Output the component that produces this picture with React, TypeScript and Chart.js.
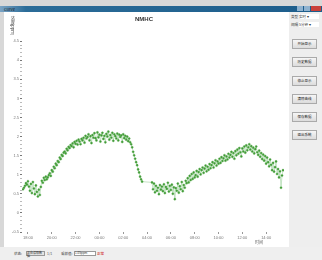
import React, { useEffect, useRef } from "react";
import { Chart, registerables } from "chart.js";

Chart.register(...registerables);

// ---- data ----
const chartTitle = "NMHC";
const yAxisTitle = "浓度(ppm)";
const xAxisTitle = "时间";

// sample interval in minutes and start time (min) of each recorded segment
const sampleMinutes = 5;
const seg1Start = -25;
const seg2Start = 625;

const seg1Values = [
  0.62, 0.66, 0.71, 0.78, 0.74, 0.83, 0.69, 0.58, 0.76, 0.52, 0.81, 0.64,
  0.49, 0.72, 0.55, 0.43, 0.61, 0.47, 0.68, 0.84, 0.79, 0.92, 0.86, 0.95,
  0.88, 0.93, 0.99, 1.04, 0.97, 1.12, 1.08, 1.21, 1.17, 1.29, 1.25, 1.36,
  1.33, 1.45, 1.41, 1.52, 1.49, 1.58, 1.61, 1.56, 1.68, 1.64, 1.73, 1.70,
  1.78, 1.75, 1.82, 1.72, 1.86, 1.81, 1.89, 1.79, 1.92, 1.87, 1.80, 1.94,
  1.90, 1.97, 1.84, 2.02, 1.95, 1.99, 2.06, 1.90, 2.01, 1.83, 2.04, 1.97,
  2.09, 1.96, 1.90, 2.11, 1.98, 2.05, 1.87, 2.03, 2.10, 1.94, 2.02, 1.85,
  2.07, 2.00, 2.13, 1.92, 2.04, 1.97, 2.10, 1.89, 2.06, 2.01, 1.95, 2.08,
  1.90, 2.05, 1.99, 2.03, 1.86, 2.06, 1.96, 2.02, 1.92, 2.00, 1.88, 1.95,
  1.85, 1.80, 1.72, 1.60, 1.51, 1.42, 1.33, 1.25, 1.14, 1.06, 0.95, 0.88,
  0.82,
];

const seg2Values = [
  0.80, 0.62, 0.77, 0.54, 0.71, 0.58, 0.66, 0.49, 0.73, 0.61, 0.69, 0.57,
  0.75, 0.52, 0.68, 0.63, 0.79, 0.56, 0.71, 0.60, 0.74, 0.50, 0.67, 0.36,
  0.65, 0.58, 0.77, 0.53, 0.70, 0.62, 0.81, 0.57, 0.73, 0.66, 0.84, 0.78,
  0.91, 0.80, 0.97, 0.86, 1.02, 0.89, 1.06, 0.93, 0.99, 1.10, 0.95, 1.07,
  1.15, 1.01, 1.12, 1.19, 1.05, 1.16, 1.24, 1.09, 1.21, 1.13, 1.28, 1.17,
  1.25, 1.33, 1.19, 1.30, 1.38, 1.24, 1.35, 1.29, 1.42, 1.31, 1.46, 1.36,
  1.43, 1.51, 1.37, 1.48, 1.40, 1.55, 1.45, 1.52, 1.60, 1.47, 1.57, 1.42,
  1.62, 1.51, 1.66, 1.55, 1.70, 1.59, 1.48, 1.69, 1.61, 1.74, 1.58, 1.77,
  1.64, 1.72, 1.80, 1.66, 1.75, 1.61, 1.71, 1.56, 1.67, 1.74, 1.59, 1.52,
  1.63, 1.47, 1.57, 1.41, 1.53, 1.37, 1.49, 1.29, 1.45, 1.33, 1.22, 1.40,
  1.26, 1.12, 1.31, 1.08, 1.20, 1.35, 1.02, 1.15, 0.93, 1.09, 0.66, 0.98,
  1.12,
];

const xTickValues = [0, 120, 240, 360, 480, 600, 720, 840, 960, 1080, 1200];
const xTickLabels = [
  "18:00", "20:00", "22:00", "00:00", "02:00", "04:00",
  "06:00", "08:00", "10:00", "12:00", "14:00",
];

const yMajorValues = [-0.5, 0, 0.5, 1, 1.5, 2, 2.5, 3, 3.5, 4, 4.5];
const yMajorLabels = ["-0.5", "0", "0.5", "1", "1.5", "2", "2.5", "3", "3.5", "4", "4.5"];
const yMinorPerMajor = 4;

const sideButtons = ["开始显示", "历史数据", "停止显示", "清除曲线", "保存数据", "退出系统"];

export default function App() {
  const ref = useRef<HTMLCanvasElement | null>(null);

  useEffect(() => {
    if (!ref.current) return;
    const points: { x: number; y: number }[] = [];
    seg1Values.forEach((v, i) => points.push({ x: seg1Start + i * sampleMinutes, y: v }));
    seg2Values.forEach((v, i) => points.push({ x: seg2Start + i * sampleMinutes, y: v }));

    const yTicks: { value: number; label: string; major: boolean }[] = [];
    yMajorValues.forEach((v, i) => {
      yTicks.push({ value: v, label: yMajorLabels[i], major: true });
      if (i < yMajorValues.length - 1) {
        const step = (yMajorValues[i + 1] - v) / (yMinorPerMajor + 1);
        for (let k = 1; k <= yMinorPerMajor; k++) {
          yTicks.push({ value: v + step * k, label: "", major: false });
        }
      }
    });

    const chart = new Chart(ref.current, {
      type: "scatter",
      data: {
        datasets: [
          {
            data: points,
            showLine: true,
            borderColor: "#9fd29f",
            borderWidth: 0.6,
            pointRadius: 1.1,
            pointBorderWidth: 0.4,
            pointBackgroundColor: "#3f9a35",
            pointBorderColor: "#5fae55",
          },
        ],
      },
      options: {
        animation: false,
        responsive: false,
        devicePixelRatio: 1,
        layout: { padding: { left: 0, right: 5, top: 0, bottom: 0 } },
        plugins: {
          legend: { display: false },
          tooltip: { enabled: false },
          title: {
            display: true,
            text: chartTitle,
            color: "#333",
            font: { size: 6, weight: "bold", family: "Liberation Sans" },
            padding: { top: 4, bottom: 18 },
          },
        },
        scales: {
          x: {
            type: "linear",
            min: -30,
            max: 1290,
            afterBuildTicks: (s: any) => {
              s.ticks = xTickValues.map((v) => ({ value: v }));
            },
            afterFit: (s: any) => {
              s.height = 15;
            },
            ticks: {
              autoSkip: false,
              maxRotation: 0,
              padding: 1,
              color: "#777",
              font: { size: 4, family: "Liberation Sans" },
              callback: (_v: any, i: number) => xTickLabels[i],
            },
            grid: { drawOnChartArea: false, tickLength: 2, color: "#999" },
            border: { display: false },
          },
          y: {
            type: "linear",
            min: -0.5,
            max: 4.5,
            afterBuildTicks: (s: any) => {
              s.ticks = yTicks.map((t) => ({ value: t.value }));
            },
            afterFit: (s: any) => {
              s.width = 18;
            },
            ticks: {
              autoSkip: false,
              padding: 1,
              color: "#777",
              font: { size: 4, family: "Liberation Sans" },
              callback: (_v: any, i: number) => (yTicks[i] ? yTicks[i].label : ""),
            },
            grid: {
              drawOnChartArea: false,
              tickLength: 2,
              color: (ctx: any) => (yTicks[ctx.index] && yTicks[ctx.index].major ? "#777" : "#bbb"),
            },
            border: { display: false },
          },
        },
      },
    } as any);
    return () => chart.destroy();
  }, []);

  const font = "'Noto Sans CJK SC', 'Liberation Sans', sans-serif";

  return (
    <div
      style={{
        position: "fixed",
        left: 0,
        top: 0,
        width: 322,
        height: 260,
        overflow: "hidden",
        background: "#d8d8d8",
        fontFamily: font,
      }}
    >
      {/* window title bar */}
      <div
        style={{
          position: "absolute",
          left: 0,
          top: 6,
          width: 322,
          height: 6,
          background: "linear-gradient(to right, #7aa3c4 0%, #2b6c98 8%, #1d5d8b 100%)",
        }}
      />
      <div style={{ position: "absolute", left: 4, top: 6, fontSize: 4, lineHeight: "6px", color: "#1a1a1a" }}>
        Curve
      </div>
      <div style={{ position: "absolute", left: 297, top: 6, width: 6, height: 5, background: "#8fb2cf" }} />
      <div style={{ position: "absolute", left: 304, top: 6, width: 6, height: 5, background: "#8fb2cf" }} />
      <div style={{ position: "absolute", left: 311, top: 6, width: 10, height: 5, background: "#c9403a" }} />

      {/* right panel */}
      <div style={{ position: "absolute", left: 289, top: 12, width: 33, height: 235, background: "#eeeeee" }} />
      <div style={{ position: "absolute", left: 291, top: 14, fontSize: 3.5, lineHeight: "5px", color: "#333" }}>
        类型
      </div>
      <div style={{ position: "absolute", left: 299, top: 14, width: 20, height: 5, fontSize: 3.5, lineHeight: "5px", color: "#333", background: "#fff" }}>
        实时 ▾
      </div>
      <div style={{ position: "absolute", left: 291, top: 22, fontSize: 3.5, lineHeight: "5px", color: "#333" }}>
        间隔
      </div>
      <div style={{ position: "absolute", left: 299, top: 22, width: 20, height: 5, fontSize: 3.5, lineHeight: "5px", color: "#333", background: "#fff" }}>
        5分钟 ▾
      </div>
      {sideButtons.map((b, i) => (
        <div
          key={b}
          style={{
            position: "absolute",
            left: 292,
            top: [39, 57, 76, 94, 112, 130][i],
            width: 25,
            height: 10,
            boxSizing: "border-box",
            border: "1px solid #aaa",
            background: "linear-gradient(#f6f6f6, #dcdcdc)",
            fontSize: 3.5,
            lineHeight: "8px",
            textAlign: "center",
            color: "#222",
          }}
        >
          {b}
        </div>
      ))}

      {/* chart area */}
      <div style={{ position: "absolute", left: 4, top: 12, width: 285, height: 235, background: "#fff" }}>
        <canvas ref={ref} width={285} height={235} style={{ display: "block", width: 285, height: 235 }} />
      </div>
      <div
        style={{
          position: "absolute",
          left: 10,
          top: 16,
          fontSize: 4,
          lineHeight: "5px",
          color: "#444",
          writingMode: "vertical-rl",
        }}
      >
        {yAxisTitle}
      </div>
      <div style={{ position: "absolute", left: 255, top: 240, fontSize: 4, lineHeight: "5px", color: "#555" }}>
        {xAxisTitle}
      </div>

      {/* status bar */}
      <div style={{ position: "absolute", left: 0, top: 247, width: 322, height: 13, background: "#efefef" }} />
      <div style={{ position: "absolute", left: 14, top: 251, fontSize: 3.5, lineHeight: "5px", color: "#333" }}>
        状态:
      </div>
      <div
        style={{
          position: "absolute",
          left: 26,
          top: 251,
          width: 19,
          height: 5,
          boxSizing: "border-box",
          border: "1px solid #999",
          background: "#e4e4e4",
          fontSize: 3,
          lineHeight: "3px",
          color: "#333",
        }}
      >
        正在读取数据
      </div>
      <div style={{ position: "absolute", left: 47, top: 251, fontSize: 3.5, lineHeight: "5px", color: "#555" }}>
        1/1
      </div>
      <div style={{ position: "absolute", left: 61, top: 251, fontSize: 3.5, lineHeight: "5px", color: "#333" }}>
        采样值:
      </div>
      <div
        style={{
          position: "absolute",
          left: 74,
          top: 251,
          width: 22,
          height: 5,
          boxSizing: "border-box",
          border: "1px solid #999",
          background: "#fff",
          fontSize: 3,
          lineHeight: "3px",
          color: "#333",
        }}
      >
        1.05ppm
      </div>
      <div style={{ position: "absolute", left: 97, top: 251, fontSize: 3.5, lineHeight: "5px", color: "#c00" }}>
        正常
      </div>
    </div>
  );
}
